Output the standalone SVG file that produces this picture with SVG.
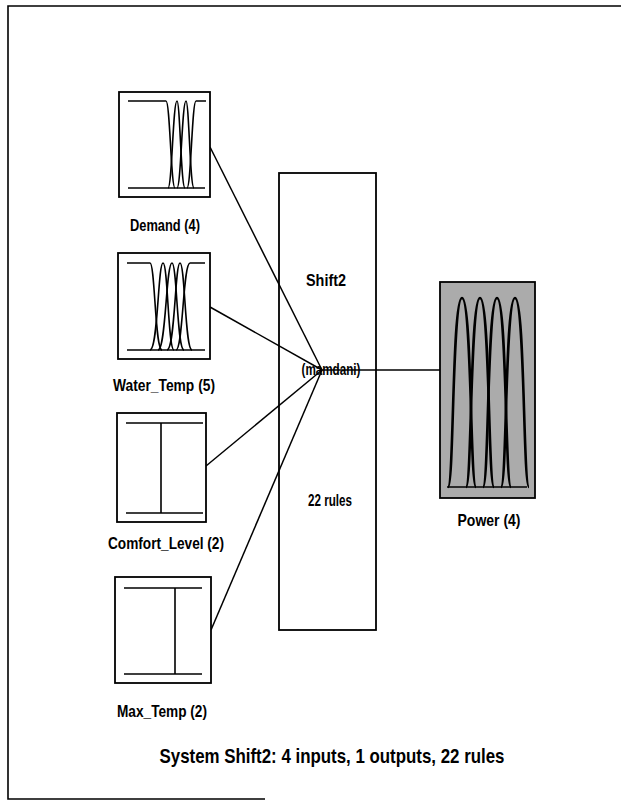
<svg xmlns="http://www.w3.org/2000/svg" width="621" height="802" viewBox="0 0 621 802">
<style>
.box{fill:#fff;stroke:#000;stroke-width:1.8}
.mf{fill:none;stroke:#000;stroke-width:1.6}
.pmf{fill:none;stroke:#000;stroke-width:2.6}
.conn{fill:none;stroke:#000;stroke-width:1.5}
.lbl{font-family:"Liberation Sans",Arial,sans-serif;font-weight:bold;font-size:17px;text-anchor:middle;fill:#000}
.cap{font-family:"Liberation Sans",Arial,sans-serif;font-weight:bold;font-size:21px;text-anchor:middle;fill:#000}
</style>
<rect width="621" height="802" fill="#fff"/>
<path d="M621,6 H8 V799 H265" fill="none" stroke="#000" stroke-width="1.6"/>
<g id="connectors">
<path class="conn" d="M210,147 L322,370"/>
<path class="conn" d="M210,307 L322,370"/>
<path class="conn" d="M206,466 L322,370"/>
<path class="conn" d="M211,630 L322,370"/>
<path class="conn" d="M322,370 H440"/>
</g>
<g id="demand">
<rect class="box" x="119" y="92" width="91" height="105"/>
<path class="mf" d="M128,101 H166 C170,101 171,188 175,188"/>
<path class="mf" d="M168,188 C172,188 173,101 177,101 C180,101 181,188 185,188"/>
<path class="mf" d="M177,188 C181,188 182,101 186,101 C189,101 190,188 194,188"/>
<path class="mf" d="M187,188 C191,188 192,101 196,101 H206"/>
<path class="mf" d="M128,188 H205"/>
<text class="lbl" x="165" y="231" textLength="70" lengthAdjust="spacingAndGlyphs">Demand (4)</text>
</g>
<g id="water_temp">
<rect class="box" x="118" y="253" width="92" height="106"/>
<path class="mf" d="M127,263 H150 C155,263 155,350 162,350"/>
<path class="mf" d="M150,350 C158,350 158,263 163,263 C168,263 168,350 174,350"/>
<path class="mf" d="M158,350 C166,350 166,263 172,263 C177,263 177,350 184,350"/>
<path class="mf" d="M167,350 C175,350 175,263 180,263 C185,263 185,350 192,350"/>
<path class="mf" d="M176,350 C183,350 183,263 190,263 H205"/>
<path class="mf" d="M127,350 H205"/>
<text class="lbl" x="164" y="391" textLength="102" lengthAdjust="spacingAndGlyphs">Water_Temp (5)</text>
</g>
<g id="comfort_level">
<rect class="box" x="117" y="413" width="89" height="109"/>
<path class="mf" d="M126,423 H203 M161,423 V513 M126,513 H203"/>
<text class="lbl" x="166" y="549" textLength="116" lengthAdjust="spacingAndGlyphs">Comfort_Level (2)</text>
</g>
<g id="max_temp">
<rect class="box" x="115" y="577" width="96" height="106"/>
<path class="mf" d="M124,588 H202 M175,588 V674 M124,674 H202"/>
<text class="lbl" x="162" y="717" textLength="90" lengthAdjust="spacingAndGlyphs">Max_Temp (2)</text>
</g>
<g id="shift2">
<rect x="279" y="173" width="97" height="457" fill="none" stroke="#000" stroke-width="1.8"/>
<text class="lbl" x="326" y="286" textLength="40" lengthAdjust="spacingAndGlyphs">Shift2</text>
<text class="lbl" x="331" y="375" textLength="59" lengthAdjust="spacingAndGlyphs">(mamdani)</text>
<text class="lbl" x="330" y="506" textLength="44" lengthAdjust="spacingAndGlyphs">22 rules</text>
</g>
<g id="power">
<rect x="440" y="282" width="95" height="216" fill="#ababab" stroke="#000" stroke-width="1.8"/>
<path class="pmf" d="M448,487 C454,487 452,298 462,298 C472,298 470,487 476,487"/>
<path class="pmf" d="M466,487 C472,487 470,298 480,298 C490,298 488,487 494,487"/>
<path class="pmf" d="M483,487 C489,487 487,298 497,298 C507,298 505,487 511,487"/>
<path class="pmf" d="M501,487 C507,487 505,298 515,298 C525,298 523,487 529,487"/>
<path class="mf" d="M447,487 H527" stroke-width="2"/>
<text class="lbl" x="489" y="526" textLength="63" lengthAdjust="spacingAndGlyphs">Power (4)</text>
</g>
<text class="cap" x="332" y="763" textLength="345" lengthAdjust="spacingAndGlyphs">System Shift2: 4 inputs, 1 outputs, 22 rules</text>
</svg>
